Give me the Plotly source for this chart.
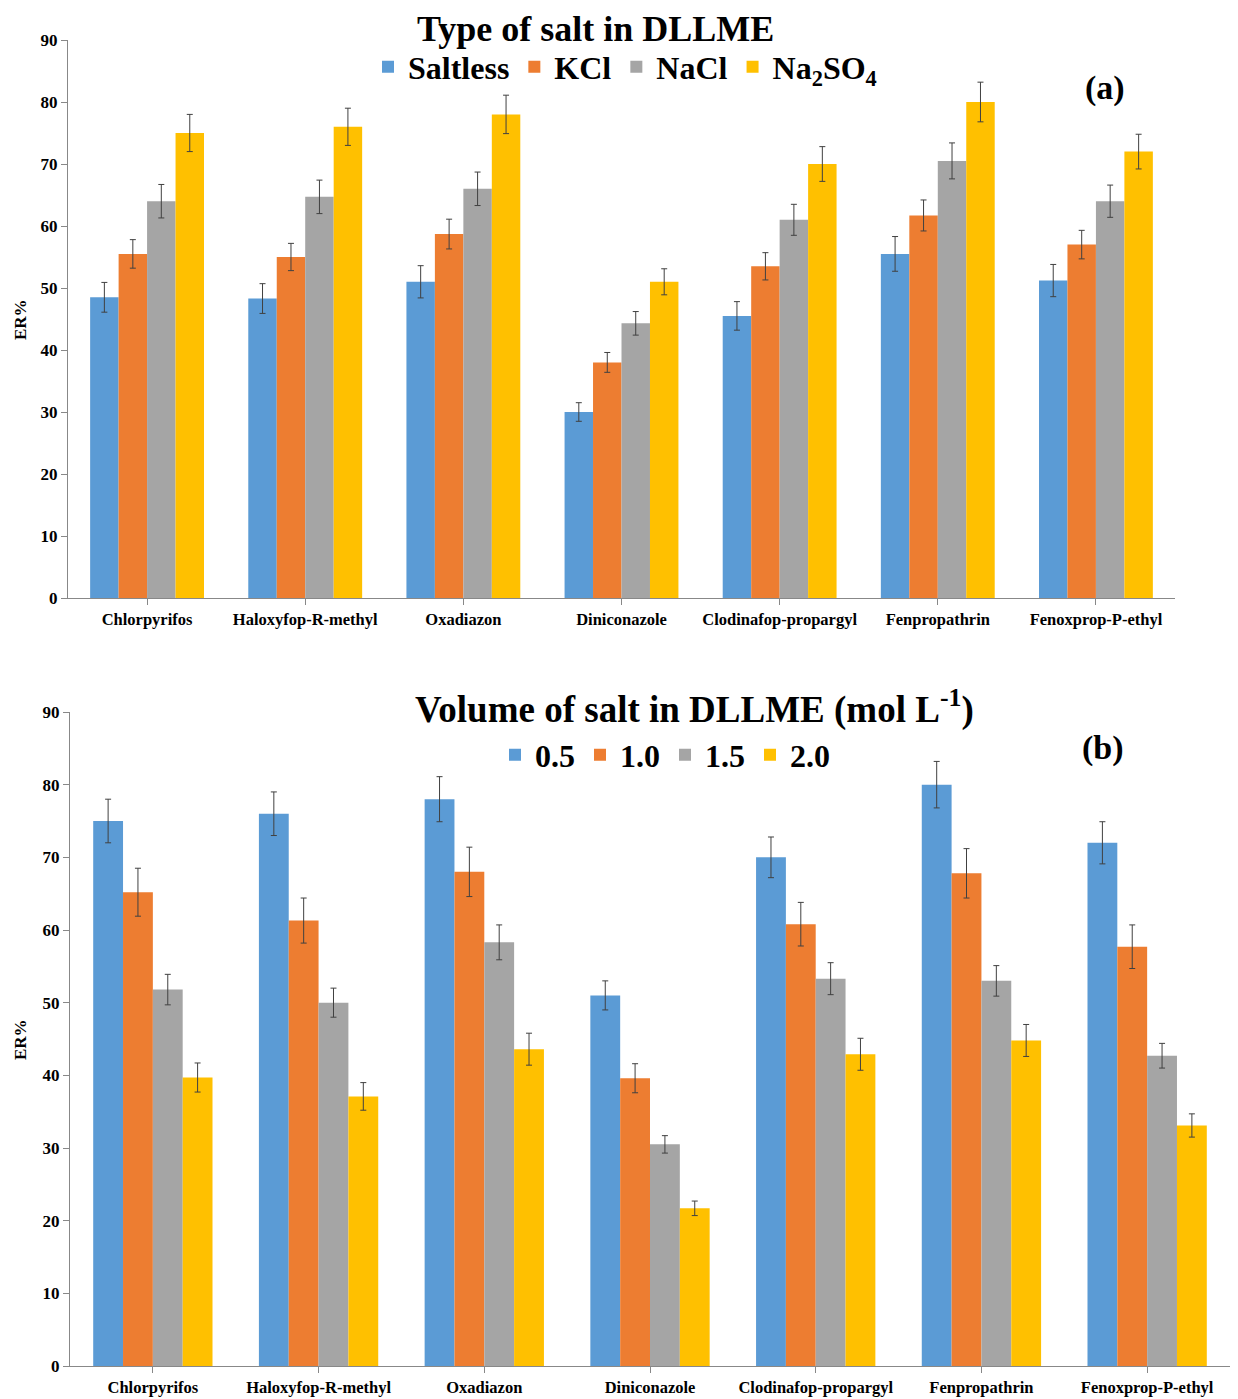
import plotly.graph_objects as go

categories = ["Chlorpyrifos", "Haloxyfop-R-methyl", "Oxadiazon", "Diniconazole",
              "Clodinafop-propargyl", "Fenpropathrin", "Fenoxprop-P-ethyl"]

# Panel (a): type of salt
a_names = ["Saltless", "KCl", "NaCl", "Na<sub>2</sub>SO<sub>4</sub>"]
a_saltless = [48.5, 48.3, 51.0, 30.0, 45.5, 55.5, 51.2]
a_kcl      = [55.5, 55.0, 58.7, 38.0, 53.5, 61.7, 57.0]
a_nacl     = [64.0, 64.7, 66.0, 44.3, 61.0, 70.5, 64.0]
a_na2so4   = [75.0, 76.0, 78.0, 51.0, 70.0, 80.0, 72.0]
a_err_saltless = [2.4, 2.4, 2.6, 1.5, 2.3, 2.8, 2.6]
a_err_kcl      = [2.3, 2.2, 2.4, 1.6, 2.2, 2.5, 2.3]
a_err_nacl     = [2.7, 2.7, 2.7, 1.9, 2.5, 2.9, 2.6]
a_err_na2so4   = [3.0, 3.0, 3.1, 2.1, 2.8, 3.2, 2.8]

# Panel (b): concentration of salt
b_names = ["0.5", "1.0", "1.5", "2.0"]
b_05 = [75.0, 76.0, 78.0, 51.0, 70.0, 80.0, 72.0]
b_10 = [65.2, 61.3, 68.0, 39.6, 60.8, 67.8, 57.7]
b_15 = [51.8, 50.0, 58.3, 30.5, 53.3, 53.0, 42.7]
b_20 = [39.7, 37.1, 43.6, 21.7, 42.9, 44.8, 33.1]
b_err_05 = [3.0, 3.0, 3.1, 2.0, 2.8, 3.2, 2.9]
b_err_10 = [3.3, 3.1, 3.4, 2.0, 3.0, 3.4, 3.0]
b_err_15 = [2.1, 2.0, 2.4, 1.2, 2.2, 2.1, 1.7]
b_err_20 = [2.0, 1.9, 2.2, 1.0, 2.2, 2.2, 1.6]

y_ticks = [0, 10, 20, 30, 40, 50, 60, 70, 80, 90]

colors = ["#5B9BD5", "#ED7D31", "#A5A5A5", "#FFC000"]
SERIF = "Liberation Serif"

fig = go.Figure()

for name, vals, err, col in zip(a_names, [a_saltless, a_kcl, a_nacl, a_na2so4],
                                [a_err_saltless, a_err_kcl, a_err_nacl, a_err_na2so4], colors):
    fig.add_trace(go.Bar(x=categories, y=vals, name=name, marker_color=col,
                         marker_line_width=0,
                         error_y=dict(type="data", array=err, color="#404040",
                                      thickness=1, width=3),
                         xaxis="x", yaxis="y", legend="legend"))

for name, vals, err, col in zip(b_names, [b_05, b_10, b_15, b_20],
                                [b_err_05, b_err_10, b_err_15, b_err_20], colors):
    fig.add_trace(go.Bar(x=categories, y=vals, name=name, marker_color=col,
                         marker_line_width=0,
                         error_y=dict(type="data", array=err, color="#404040",
                                      thickness=1, width=3),
                         xaxis="x2", yaxis="y2", legend="legend2"))

W, H = 1238, 1399
OFF = 8  # page body margin
def px(x):
    return (x - OFF) / W
def py(y):
    return (H - (y - OFF)) / H

yaxis_common = dict(range=[0, 90], tickvals=y_ticks, showgrid=False, zeroline=False,
                    showline=True, linecolor="#888888", linewidth=1, automargin=False,
                    ticks="outside", ticklen=6, tickcolor="#888888",
                    tickfont=dict(family=SERIF, size=17, color="black", weight="bold"))
xaxis_common = dict(showgrid=False, zeroline=False, showline=True, linecolor="#888888",
                    linewidth=1, ticks="outside", ticklen=6, tickcolor="#888888",
                    automargin=False,
                    tickfont=dict(family=SERIF, size=16.5, color="black", weight="bold"))

fig.update_layout(
    width=W, height=H,
    margin=dict(l=0, r=0, t=0, b=0, autoexpand=False),
    paper_bgcolor="white", plot_bgcolor="white",
    barmode="group", bargap=0.28, bargroupgap=0,
    xaxis=dict(domain=[px(68), px(1175)], anchor="y", **xaxis_common),
    yaxis=dict(domain=[py(598), py(40)], anchor="x", **yaxis_common),
    xaxis2=dict(domain=[px(70), px(1230)], anchor="y2", **xaxis_common),
    yaxis2=dict(domain=[py(1366), py(712)], anchor="x2", **yaxis_common),
    legend=dict(orientation="h", x=px(625), y=py(67), xanchor="center", yanchor="middle",
                font=dict(family=SERIF, size=32, color="black", weight="bold"),
                bgcolor="rgba(0,0,0,0)", itemwidth=30, tracegroupgap=0),
    legend2=dict(orientation="h", x=px(665), y=py(755), xanchor="center", yanchor="middle",
                 font=dict(family=SERIF, size=32, color="black", weight="bold"),
                 bgcolor="rgba(0,0,0,0)", itemwidth=30, tracegroupgap=0),
    showlegend=True,
)

annotations = [
    dict(text="Type of salt in DLLME", x=px(595), y=1.0, xref="paper", yref="paper",
         showarrow=False, xanchor="center", yanchor="top", borderpad=0,
         font=dict(family=SERIF, size=36, color="black", weight="bold")),
    dict(text="Volume of salt in DLLME (mol L<sup>-1</sup>)", x=px(695), y=py(707),
         xref="paper", yref="paper", showarrow=False, xanchor="center", yanchor="middle",
         font=dict(family=SERIF, size=37, color="black", weight="bold")),
    dict(text="(a)", x=px(1105), y=py(88), xref="paper", yref="paper", showarrow=False,
         xanchor="center", yanchor="middle",
         font=dict(family=SERIF, size=34, color="black", weight="bold")),
    dict(text="(b)", x=px(1103), y=py(748), xref="paper", yref="paper", showarrow=False,
         xanchor="center", yanchor="middle",
         font=dict(family=SERIF, size=34, color="black", weight="bold")),
    dict(text="ER%", x=px(20), y=py(320), xref="paper", yref="paper", showarrow=False,
         textangle=-90, xanchor="center", yanchor="middle",
         font=dict(family=SERIF, size=17, color="black", weight="bold")),
    dict(text="ER%", x=px(20), y=py(1040), xref="paper", yref="paper", showarrow=False,
         textangle=-90, xanchor="center", yanchor="middle",
         font=dict(family=SERIF, size=17, color="black", weight="bold")),
]
fig.update_layout(annotations=annotations)

fig.write_html("out.html")
